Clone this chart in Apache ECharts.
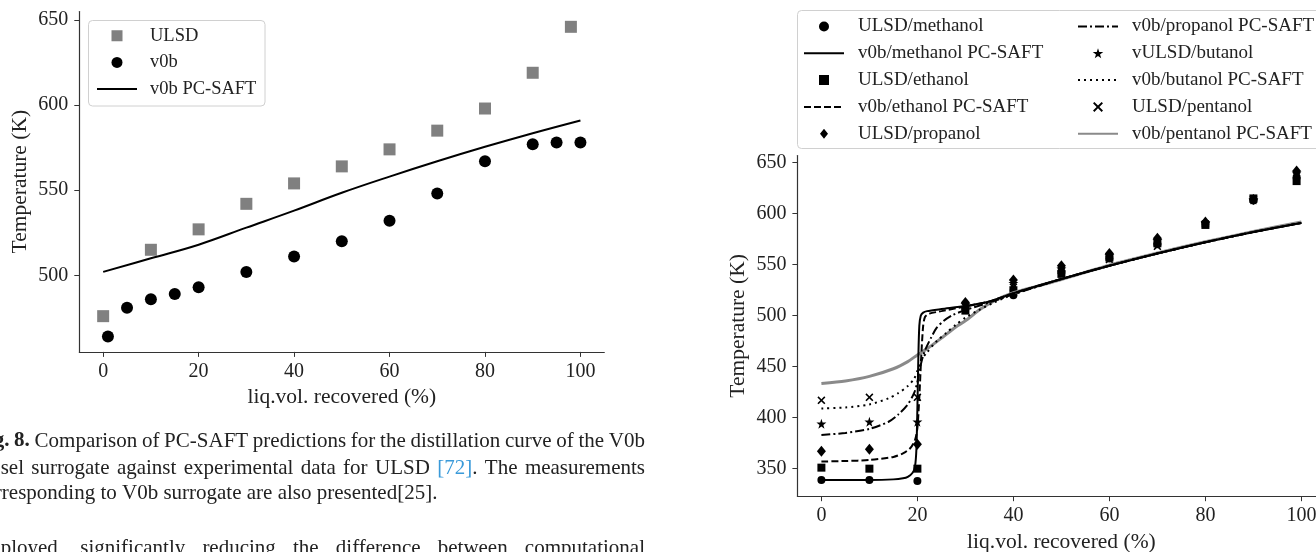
<!DOCTYPE html>
<html>
<head>
<meta charset="utf-8">
<script src="https://cdn.jsdelivr.net/npm/echarts@6/dist/echarts.min.js"></script>
<style>
html,body{margin:0;padding:0;background:#fff;}
#c{width:1316px;height:552px;}
</style>
</head>
<body>
<div id="c"></div>
<script>
// ---------- Left chart (Fig. 8) ----------
const xTicks = [0, 20, 40, 60, 80, 100];
const leftYTicks = [500, 550, 600, 650];
const rightYTicks = [350, 400, 450, 500, 550, 600, 650];

const ulsdX = [0, 10, 20, 30, 40, 50, 60, 70, 80, 90, 98];
const ulsdY = [476, 515, 527, 542, 554, 564, 574, 585, 598, 619, 646];
const v0bX = [1, 5, 10, 15, 20, 30, 40, 50, 60, 70, 80, 90, 95, 100];
const v0bY = [464, 481, 486, 489, 493, 502, 511, 520, 532, 548, 567, 577, 578, 578];
const v0bSaftX = [0, 10, 20, 30, 40, 50, 60, 70, 80, 90, 100];
const v0bSaftY = [502, 510, 518, 528, 538, 548.5, 558, 567, 575.5, 583.5, 591];

// ---------- Right chart (alcohol blends) ----------
const expX = [0, 10, 20, 30, 40, 50, 60, 70, 80, 90, 99];
const methanolY = [339, 339, 338, 507, 520, 543, 556, 570, 590, 613, 636];
const ethanolY  = [351, 350, 350, 505, 525, 541, 557, 571, 589, 615, 632];
const propanolY = [367, 369, 374, 513, 535, 549, 561, 576, 592, 614, 642];
const butanolY  = [394, 396, 396, 511, 532, 546, 559, 574, 591, 614, 640];
const pentanolY = [417, 420, 420, 509, 528, 544, 555, 568, 590, 614, 637];

const tailX = [50, 60, 70, 80, 90, 100];
const tailY = [536, 549, 561, 572, 582, 591];
const methSaftX = [0, 10, 15, 17, 18, 19, 19.5, 19.8, 20, 20.2, 20.4, 20.7, 21.2, 22, 25, 30, 35, 40];
const methSaftY = [339, 339, 339.5, 340.5, 342, 346, 352, 370, 410, 460, 490, 500, 503, 504.5, 506.5, 509.5, 514, 522];
const ethSaftX = [0, 5, 10, 15, 17, 18.5, 19.5, 20, 20.4, 20.8, 21.2, 21.6, 22.5, 25, 30, 35, 40];
const ethSaftY = [357, 357.5, 358.5, 361.5, 365, 370, 378, 390, 420, 460, 490, 499, 502, 504.5, 509, 514, 522];
const propSaftX = [0, 5, 10, 14, 16, 18, 19.3, 20, 20.7, 21.5, 22.8, 24, 25.5, 27.5, 30, 35, 40];
const propSaftY = [383, 385, 389, 396, 403, 413, 424, 435, 452, 465, 478, 488, 495, 501, 505.5, 513, 521];
const butSaftX = [0, 5, 10, 14, 16, 18, 19.3, 20, 20.7, 22, 24, 26, 28, 30, 33, 36, 40];
const butSaftY = [409, 410, 413, 419, 424, 431, 438, 446, 456, 464, 475, 483, 491, 498, 506, 513, 521];
const pentSaftX = [0, 5, 10, 15, 18, 20, 22, 25, 28, 30, 33, 36, 40, 45, 50, 60, 70, 80, 90, 100];
const pentSaftY = [433.5, 436, 440.5, 448, 455, 461.5, 467.5, 478, 489, 495, 506, 514.5, 522.5, 529, 535.5, 549.5, 561.5, 572.5, 582.5, 592];

// ---------- Caption text ----------
const captionLines = [
  { text: 'Fig. 8.  Comparison of PC-SAFT predictions for the distillation curve of the V0b', justify: true, boldWords: 2 },
  { text: 'diesel surrogate against experimental data for ULSD [72]. The measurements', justify: true, link: '[72]' },
  { text: 'corresponding to V0b surrogate are also presented[25].', justify: false },
  { text: 'employed, significantly reducing the difference between computational', justify: true }
];

function pts(xs, ys) { return xs.map((x, i) => [x, ys[i]]); }
function withTail(xs, ys) { return pts(xs.concat(tailX), ys.concat(tailY)); }

const SERIF = 'Liberation Serif';
const STAR = 'path://M0,-1 L0.2245,-0.309 L0.951,-0.309 L0.363,0.118 L0.588,0.809 L0,0.382 L-0.588,0.809 L-0.363,0.118 L-0.951,-0.309 L-0.2245,-0.309 Z';
const XMARK = 'path://M0,0.14 L0.14,0 L0.5,0.36 L0.86,0 L1,0.14 L0.64,0.5 L1,0.86 L0.86,1 L0.5,0.64 L0.14,1 L0,0.86 L0.36,0.5 Z';
// legend icons: invisible side points fix the icon box so the visible shape keeps its proportions
const ICON_SQ_R = 'path://M-1.6,0 L-1.6,0 Z M1.6,0 L1.6,0 Z M-0.4,-0.4 L0.4,-0.4 L0.4,0.4 L-0.4,0.4 Z';
const ICON_DIA_R = 'path://M-2,0 L-2,0 Z M2,0 L2,0 Z M0,-0.5 L0.4,0 L0,0.5 L-0.4,0 Z';
const ICON_SQ_L = 'path://M-1.745,0 L-1.745,0 Z M1.745,0 L1.745,0 Z M-0.48,-0.48 L0.48,-0.48 L0.48,0.48 L-0.48,0.48 Z';

function xAxisDef(gridIndex) {
  return {
    type: 'value', gridIndex, min: -5, max: 105,
    axisLine: { show: true, onZero: false, lineStyle: { color: '#333', width: 1.2 } },
    axisTick: { show: true, customValues: xTicks, length: 5, lineStyle: { color: '#333', width: 1 } },
    axisLabel: { customValues: xTicks, fontFamily: SERIF, fontSize: 20, color: '#222', margin: 10 },
    splitLine: { show: false },
    name: 'liq.vol. recovered (%)', nameLocation: 'middle', nameGap: 33,
    nameTextStyle: { fontFamily: SERIF, fontSize: 21.5, color: '#222' }
  };
}
function yAxisDef(gridIndex, min, max, ticks) {
  return {
    type: 'value', gridIndex, min, max,
    axisLine: { show: true, onZero: false, lineStyle: { color: '#333', width: 1.2 } },
    axisTick: { show: true, customValues: ticks, length: 5, lineStyle: { color: '#333', width: 1 } },
    axisLabel: { customValues: ticks, fontFamily: SERIF, fontSize: 20, color: '#222', margin: 11 },
    splitLine: { show: false },
    name: 'Temperature (K)', nameLocation: 'middle', nameGap: 48,
    nameTextStyle: { fontFamily: SERIF, fontSize: 21.5, color: '#222' }
  };
}

const legendText = (size, pad) => ({ fontFamily: SERIF, fontSize: size, color: '#222', lineHeight: 20, padding: [0, 0, 0, pad] });
const hideSym = { opacity: 0, borderWidth: 0 };

// justified caption layout (word positions computed from measured text widths)
const measureCtx = document.createElement('canvas').getContext('2d');
function fontStr(bold) { return (bold ? 'bold ' : '') + '21px "Liberation Serif"'; }
function measure(t, bold) { measureCtx.font = fontStr(bold); return measureCtx.measureText(t).width; }
function buildCaption(lines, x0, x1, ys) {
  const els = [];
  lines.forEach((ln, li) => {
    const words = ln.text.split(/\s+/);
    const segsPerWord = words.map((w, wi) => {
      const bold = ln.boldWords && wi < ln.boldWords;
      if (ln.link && w.indexOf(ln.link) === 0) {
        return [{ t: ln.link, bold, color: '#3a9ad9' }, { t: w.slice(ln.link.length), bold, color: '#222' }];
      }
      return [{ t: w, bold, color: '#222' }];
    });
    const widths = segsPerWord.map(s => s.reduce((a, g) => a + measure(g.t, g.bold), 0));
    const total = widths.reduce((a, b) => a + b, 0);
    const gap = ln.justify ? (x1 - x0 - total) / (words.length - 1) : measure(' ', false);
    let x = x0;
    segsPerWord.forEach((segs, wi) => {
      let sx = x;
      segs.forEach(g => {
        if (g.t.length) {
          els.push({ type: 'text', z: 5, x: sx, y: ys[li],
            style: { text: g.t, align: 'left', verticalAlign: 'middle', fill: g.color, font: fontStr(g.bold) } });
        }
        sx += measure(g.t, g.bold);
      });
      x += widths[wi] + gap;
    });
  });
  return els;
}

const option = {
  animation: false,
  backgroundColor: '#fff',
  grid: [
    { left: 79.3, top: 11.5, width: 525, height: 340.4, outerBoundsMode: 'none', containLabel: false },
    { left: 797.4, top: 155.6, width: 528, height: 340.6, outerBoundsMode: 'none', containLabel: false }
  ],
  xAxis: [xAxisDef(0), xAxisDef(1)],
  yAxis: [yAxisDef(0, 455, 655, leftYTicks), yAxisDef(1, 323, 657, rightYTicks)],
  legend: [
    { z: 10, left: 96, top: 25.8, padding: 0, orient: 'vertical', itemWidth: 40, itemHeight: 11, itemGap: 6.6,
      selectedMode: false, textStyle: legendText(18.5, 8),
      data: [
        { name: 'ULSD', icon: ICON_SQ_L },
        { name: 'v0b', icon: 'circle' },
        { name: 'v0b PC-SAFT', itemStyle: hideSym }
      ] },
    { z: 10, left: 803, top: 16.5, padding: 0, orient: 'vertical', itemWidth: 40, itemHeight: 10, itemGap: 6.8,
      selectedMode: false, textStyle: legendText(19, 9),
      data: [
        { name: 'ULSD/methanol', icon: 'circle' },
        { name: 'v0b/methanol PC-SAFT', itemStyle: hideSym },
        { name: 'ULSD/ethanol', icon: ICON_SQ_R },
        { name: 'v0b/ethanol PC-SAFT', itemStyle: hideSym },
        { name: 'ULSD/propanol', icon: ICON_DIA_R }
      ] },
    { z: 10, left: 1077, top: 16.5, padding: 0, orient: 'vertical', itemWidth: 40, itemHeight: 10, itemGap: 6.8,
      selectedMode: false, textStyle: legendText(19, 9),
      data: [
        { name: 'v0b/propanol PC-SAFT', itemStyle: hideSym },
        { name: 'vULSD/butanol', icon: STAR },
        { name: 'v0b/butanol PC-SAFT', itemStyle: hideSym },
        { name: 'ULSD/pentanol', icon: XMARK },
        { name: 'v0b/pentanol PC-SAFT', itemStyle: hideSym }
      ] }
  ],
  graphic: [
    { type: 'rect', z: 1, shape: { x: 88.5, y: 20.5, width: 176.5, height: 85.5, r: 4 },
      style: { fill: 'rgba(255,255,255,0.8)', stroke: '#d0d0d0', lineWidth: 1 } },
    { type: 'rect', z: 1, shape: { x: 797.5, y: 10.5, width: 540, height: 138, r: 4 },
      style: { fill: 'rgba(255,255,255,0.8)', stroke: '#d0d0d0', lineWidth: 1 } }
  ].concat(buildCaption(captionLines, -25, 645, [441, 468, 493, 548])),
  series: [
    { name: 'ULSD', type: 'scatter', xAxisIndex: 0, yAxisIndex: 0, symbol: 'rect', symbolSize: 12,
      itemStyle: { color: '#808080', opacity: 1 }, data: pts(ulsdX, ulsdY) },
    { name: 'v0b', type: 'scatter', xAxisIndex: 0, yAxisIndex: 0, symbol: 'circle', symbolSize: 12,
      itemStyle: { color: '#000', opacity: 1 }, data: pts(v0bX, v0bY) },
    { name: 'v0b PC-SAFT', type: 'line', xAxisIndex: 0, yAxisIndex: 0, symbol: 'none', smooth: 0.4,
      lineStyle: { color: '#000', width: 2 }, itemStyle: { color: '#000' }, data: pts(v0bSaftX, v0bSaftY) },

    { name: 'v0b/pentanol PC-SAFT', type: 'line', xAxisIndex: 1, yAxisIndex: 1, symbol: 'none', smooth: 0.25,
      lineStyle: { color: '#8a8a8a', width: 3 }, itemStyle: { color: '#8a8a8a' }, data: pts(pentSaftX, pentSaftY) },
    { name: 'ULSD/methanol', type: 'scatter', xAxisIndex: 1, yAxisIndex: 1, symbol: 'circle', symbolSize: 8,
      itemStyle: { color: '#000', opacity: 1 }, data: pts(expX, methanolY) },
    { name: 'v0b/methanol PC-SAFT', type: 'line', xAxisIndex: 1, yAxisIndex: 1, symbol: 'none', smooth: 0.25,
      lineStyle: { color: '#000', width: 2 }, itemStyle: { color: '#000' }, data: withTail(methSaftX, methSaftY) },
    { name: 'ULSD/ethanol', type: 'scatter', xAxisIndex: 1, yAxisIndex: 1, symbol: 'rect', symbolSize: 8,
      itemStyle: { color: '#000', opacity: 1 }, data: pts(expX, ethanolY) },
    { name: 'v0b/ethanol PC-SAFT', type: 'line', xAxisIndex: 1, yAxisIndex: 1, symbol: 'none', smooth: 0.25,
      lineStyle: { color: '#000', width: 2, type: [7, 3] }, itemStyle: { color: '#000' }, data: withTail(ethSaftX, ethSaftY) },
    { name: 'ULSD/propanol', type: 'scatter', xAxisIndex: 1, yAxisIndex: 1, symbol: 'diamond', symbolSize: [9, 11],
      itemStyle: { color: '#000', opacity: 1 }, data: pts(expX, propanolY) },
    { name: 'v0b/propanol PC-SAFT', type: 'line', xAxisIndex: 1, yAxisIndex: 1, symbol: 'none', smooth: 0.25,
      lineStyle: { color: '#000', width: 2, type: [9, 3, 2, 3] }, itemStyle: { color: '#000' }, data: withTail(propSaftX, propSaftY) },
    { name: 'vULSD/butanol', type: 'scatter', xAxisIndex: 1, yAxisIndex: 1, symbol: STAR, symbolSize: 10,
      itemStyle: { color: '#000', opacity: 1 }, data: pts(expX, butanolY) },
    { name: 'v0b/butanol PC-SAFT', type: 'line', xAxisIndex: 1, yAxisIndex: 1, symbol: 'none', smooth: 0.25,
      lineStyle: { color: '#000', width: 2, type: [2, 4] }, itemStyle: { color: '#000' }, data: withTail(butSaftX, butSaftY) },
    { name: 'ULSD/pentanol', type: 'scatter', xAxisIndex: 1, yAxisIndex: 1, symbol: XMARK, symbolSize: 8,
      itemStyle: { color: '#000', opacity: 1 }, data: pts(expX, pentanolY) }
  ]
};

const chart = echarts.init(document.getElementById('c'), null, { renderer: 'canvas' });
chart.setOption(option);
</script>
</body>
</html>
